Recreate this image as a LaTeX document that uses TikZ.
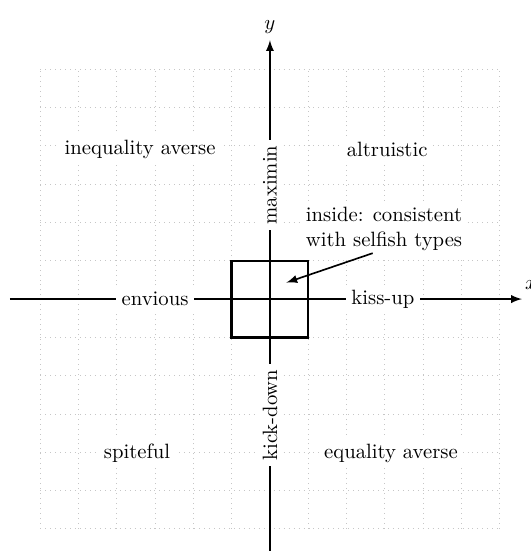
\documentclass[tikz,border=0pt]{standalone}
\usetikzlibrary{arrows.meta}
\begin{document}
\begin{tikzpicture}[x=0.65cm,y=0.65cm,>=latex,
  gridline/.style={gray!45,dotted},
  axisline/.style={thick,->},
  lbl/.style={fill=white,inner sep=2.5pt},
  vlbl/.style={fill=white,inner sep=2.5pt,rotate=90},
  selfbox/.style={draw,very thick,minimum size=1.3cm,inner sep=0pt}]
\useasboundingbox (-7.05,-6.58) rectangle (6.81,7.81);
\draw[gridline,step=0.65cm] (-6,-6) grid (6,6);
\coordinate (xs) at (-6.79,0);
\coordinate (xe) at (6.58,0);
\coordinate (ys) at (0,-6.7);
\coordinate (ye) at (0,6.76);
\draw[axisline] (xs) -- (xe);
\draw[axisline] (ys) -- (ye);
\node (xl) at (6.82,0.37) {$x$};
\node[above,inner sep=3pt] (yl) at (ye) {$y$};
\node[selfbox] (box) at (0,0) {};
\node[lbl] (env) at (-3,0) {envious};
\node[lbl] (kiss) at (2.95,0) {kiss-up};
\node[vlbl] (maxi) at (0,2.98) {maximin};
\node[vlbl] (kick) at (0,-3.03) {kick-down};
\node[lbl] (ineq) at (-3.39,3.92) {inequality averse};
\node[lbl] (alt) at (3.06,3.92) {altruistic};
\node[lbl] (spite) at (-3.47,-4.02) {spiteful};
\node[lbl] (eqav) at (3.16,-4.02) {equality averse};
\node[lbl,align=left] (txt) at (2.98,1.83) {inside: consistent\\with selfish types};
\coordinate (tip) at (0.43,0.43);
\draw[thick,->] ([xshift=-5.5pt,yshift=1.5pt]txt.south) -- (tip);
\end{tikzpicture}
\end{document}
